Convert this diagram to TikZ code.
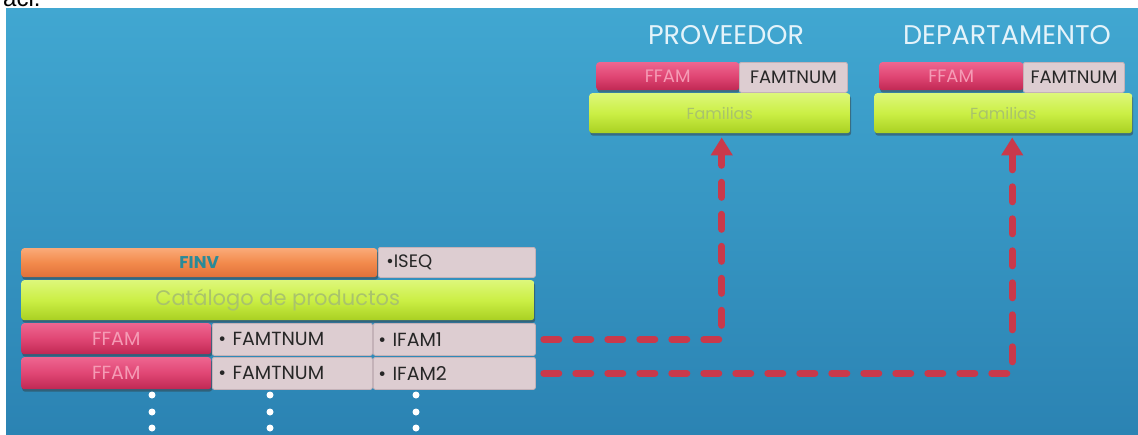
\documentclass[tikz,border=0pt]{standalone}
\usepackage{fontspec}
\setmainfont{Poppins}
\newfontfamily\fragfont{Liberation Sans}
\usetikzlibrary{arrows.meta,shadows}

\definecolor{skytop}{HTML}{41A7D1}
\definecolor{skybot}{HTML}{2B83B3}
\definecolor{orgtop}{HTML}{FAAA78}
\definecolor{orgmid}{HTML}{F28A4C}
\definecolor{orgbot}{HTML}{E0703A}
\definecolor{grntop}{HTML}{DDF77A}
\definecolor{grnmid}{HTML}{CBEF45}
\definecolor{grnbot}{HTML}{A9D022}
\definecolor{redtop}{HTML}{EE6690}
\definecolor{redmid}{HTML}{E04674}
\definecolor{redbot}{HTML}{C02853}
\definecolor{cellfill}{HTML}{DDCDD1}
\definecolor{celledge}{HTML}{C4B2B8}
\definecolor{linkred}{HTML}{C9394B}
\definecolor{finvtext}{HTML}{2A8A98}
\definecolor{grntext}{HTML}{A9C36C}
\definecolor{redtext}{HTML}{F59BB5}
\definecolor{titletext}{HTML}{E4F3FA}

\tikzset{
  barshadow/.style={drop shadow={shadow xshift=1pt,shadow yshift=-2.5pt,opacity=0.45,fill=black!80}},
  box/.style={anchor=north west, inner sep=0pt, rounded corners=3pt},
  orangebar/.style={box, top color=orgtop, bottom color=orgbot, middle color=orgmid, barshadow,
    font=\bfseries\fontsize{17}{17}\selectfont, text=finvtext},
  greenbar/.style={box, top color=grntop, bottom color=grnbot, middle color=grnmid, barshadow,
    font=\fontsize{21}{21}\selectfont, text=grntext},
  redbar/.style={box, top color=redtop, bottom color=redbot, middle color=redmid, barshadow,
    font=\fontsize{19}{19}\selectfont, text=redtext},
  cell/.style={box, rounded corners=2pt, fill=cellfill, draw=celledge, line width=0.8pt,
    font=\fontsize{19}{19}\selectfont, text=black!85, align=left},
  title/.style={font=\fontsize{27}{27}\selectfont, text=titletext, inner sep=0pt},
  dot/.style={circle, fill=white, minimum size=7pt, inner sep=0pt},
  link/.style={linkred, line width=7pt, dash pattern=on 15pt off 17pt, line cap=round,
    -{Triangle[width=21pt,length=18pt]}, shorten >=4pt},
}

\begin{document}
\begin{tikzpicture}[x=1pt,y=-1pt]
\clip (0,0) rectangle (1138,434);
\fill[white] (0,0) rectangle (1138,434);
\node[anchor=base west, inner sep=0pt, font=\fragfont\fontsize{24}{24}\selectfont] (frag) at (3,6) {aci.};
\fill[top color=skytop, bottom color=skybot] (6,8) rectangle (1138,434);

% catalogue record
\node[orangebar, minimum width=356pt, minimum height=29pt] (finv) at (21,248) {FINV};
\node[cell, minimum width=157pt, minimum height=30pt, text width=141pt, font=\fontsize{18}{18}\selectfont] (iseq) at (378,247) {\textbullet ISEQ};
\node[greenbar, minimum width=513pt, minimum height=40pt] (cat) at (21,280) {Catálogo de productos};

\node[redbar, minimum width=190pt, minimum height=31pt] (ffam1) at (21,323) {FFAM};
\node[cell, minimum width=160pt, minimum height=32pt, text width=148pt] (num1) at (212,323) {\textbullet\ FAMTNUM};
\node[cell, minimum width=162pt, minimum height=32pt, text width=152pt] (ifam1) at (373,323) {\textbullet\ IFAM1};

\node[redbar, minimum width=190pt, minimum height=32pt] (ffam2) at (21,357) {FFAM};
\node[cell, minimum width=160pt, minimum height=32pt, text width=148pt] (num2) at (212,357) {\textbullet\ FAMTNUM};
\node[cell, minimum width=162pt, minimum height=32pt, text width=152pt] (ifam2) at (373,357) {\textbullet\ IFAM2};

% continuation dots
\foreach \cx/\nm in {152/a,270/b,416/c}{
  \node[dot] (dot\nm1) at (\cx,395) {};
  \node[dot] (dot\nm2) at (\cx,412) {};
  \node[dot] (dot\nm3) at (\cx,428) {};
}

% supplier
\node[title] (tprov) at (726,35) {PROVEEDOR};
\node[redbar, minimum width=143pt, minimum height=28pt, font=\fontsize{18}{18}\selectfont] (pffam) at (596,62) {FFAM};
\node[cell, minimum width=108pt, minimum height=30pt, align=center, text width=104pt, font=\fontsize{18}{18}\selectfont] (pnum) at (739,62) {FAMTNUM};
\node[greenbar, minimum width=261pt, minimum height=40pt, font=\fontsize{16}{16}\selectfont] (pfam) at (589,93) {Familias};

% department
\node[title] (tdep) at (1007,35) {DEPARTAMENTO};
\node[redbar, minimum width=144pt, minimum height=28pt, font=\fontsize{18}{18}\selectfont] (dffam) at (879,62) {FFAM};
\node[cell, minimum width=101pt, minimum height=30pt, align=center, text width=97pt, font=\fontsize{18}{18}\selectfont] (dnum) at (1023,62) {FAMTNUM};
\node[greenbar, minimum width=258pt, minimum height=40pt, font=\fontsize{16}{16}\selectfont] (dfam) at (874,93) {Familias};

% family links
\draw[link] ([xshift=8pt]ifam1.east) -| ([xshift=2pt]pfam.south);
\draw[link] ([xshift=8pt]ifam2.east) -| ([xshift=9pt]dfam.south);
\end{tikzpicture}
\end{document}
